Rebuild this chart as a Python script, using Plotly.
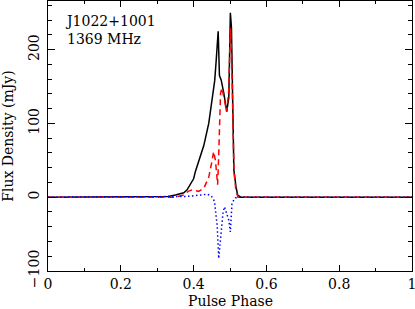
import plotly.graph_objects as go

# Total intensity (black solid)
phase_I = [0.0, 0.30, 0.33, 0.35, 0.364, 0.373, 0.382, 0.391, 0.400, 0.405, 0.419, 0.428,
           0.4416, 0.451, 0.458, 0.462, 0.4675, 0.471, 0.4757, 0.483, 0.491, 0.4967, 0.501,
           0.504, 0.5075, 0.5106, 0.5165, 0.521, 0.53, 1.0]
flux_I = [0, 0, 1, 3, 5, 6, 10, 18, 25, 35, 55, 70,
          100, 132, 158, 185, 225, 165, 159, 141, 116, 135, 250,
          230, 132, 37, 14, 3, 0, 0]

# Linear polarisation (red dashed)
phase_L = [0.0, 0.35, 0.373, 0.385, 0.396, 0.414, 0.428, 0.4416, 0.451, 0.455, 0.460, 0.466,
           0.469, 0.474, 0.478, 0.484, 0.491, 0.4967, 0.501, 0.504, 0.5075, 0.511, 0.516,
           0.522, 1.0]
flux_L = [0, 0, 3, 8, 10, 8, 12, 27, 50, 62, 50, 17,
          57, 141, 148, 135, 116, 146, 229, 200, 120, 35, 10,
          0, 0]

# Circular polarisation (blue dotted)
phase_V = [0.0, 0.35, 0.38, 0.40, 0.42, 0.437, 0.448, 0.455, 0.458, 0.465, 0.469, 0.473,
           0.477, 0.481, 0.485, 0.490, 0.4967, 0.501, 0.5055, 0.5105, 0.515, 0.52, 1.0]
flux_V = [0, 0, 1, 2, 3, 4, 2, -3, -8, -40, -83, -60,
          -35, -20, -13, -20, -31, -47, -8, -4, -1, 0, 0]

x_ticks = [0, 0.2, 0.4, 0.6, 0.8, 1]
x_tick_text = ["0", "0.2", "0.4", "0.6", "0.8", "1"]
y_ticks = [-100, 0, 100, 200]
y_tick_text = ["\u2212100", "0", "100", "200"]

FONT = "DejaVu Serif"

fig = go.Figure()
fig.add_trace(go.Scatter(x=phase_I, y=flux_I, mode="lines",
                         line=dict(color="black", width=1.5)))
fig.add_trace(go.Scatter(x=phase_L, y=flux_L, mode="lines",
                         line=dict(color="red", width=1.5, dash="6px,4px")))
fig.add_trace(go.Scatter(x=phase_V, y=flux_V, mode="lines",
                         line=dict(color="blue", width=1.5, dash="1.5px,2.5px")))

fig.add_annotation(x=0.04, y=252, xref="x", yref="y", text="J1022+1001<br>1369 MHz",
                   showarrow=False, xanchor="left", yanchor="top", align="left",
                   font=dict(family=FONT, size=14, color="black"))
fig.add_annotation(x=0.5, y=0, xref="paper", yref="paper", text="Pulse Phase",
                   showarrow=False, xanchor="center", yanchor="middle", yshift=-30,
                   borderpad=0,
                   font=dict(family=FONT, size=14, color="black"))

axis_common = dict(showgrid=False, zeroline=False, showline=True, linecolor="black",
                   linewidth=1, mirror="allticks", ticks="inside", tickcolor="black",
                   automargin=False, ticklabeloverflow="allow",
                   tickfont=dict(family=FONT, size=14, color="black"))

fig.update_xaxes(range=[0, 1], tickvals=x_ticks, ticktext=x_tick_text, ticklen=6,
                 minor=dict(dtick=0.1, tick0=0, ticks="inside", ticklen=3, tickcolor="black"),
                 **axis_common)
fig.update_yaxes(range=[-100, 266], tickvals=y_ticks, ticktext=y_tick_text, ticklen=7,
                 tickangle=-90, ticklabelstandoff=2,
                 minor=dict(dtick=20, tick0=0, ticks="inside", ticklen=4, tickcolor="black"),
                 title=dict(text="Flux Density (mJy)", font=dict(family=FONT, size=14, color="black"),
                            standoff=12),
                 **axis_common)

fig.update_layout(width=415, height=309, margin=dict(l=48, r=3, t=1, b=38),
                  plot_bgcolor="white", paper_bgcolor="white", showlegend=False)

fig.write_html("out.html", config={"displayModeBar": False},
               post_script="document.body.style.margin='0';document.body.style.overflow='hidden';")
